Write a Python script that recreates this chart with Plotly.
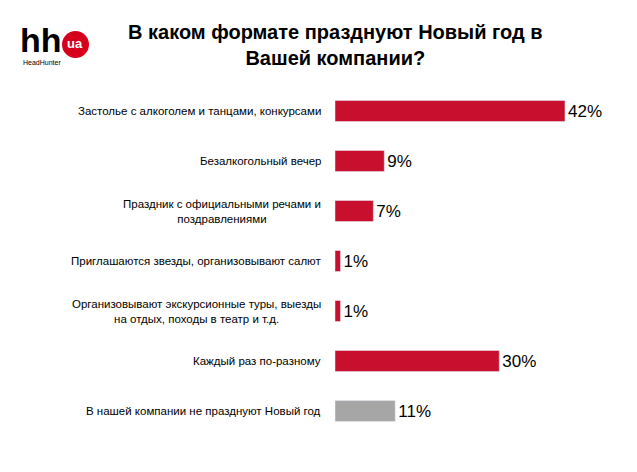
import plotly.graph_objects as go

categories = [
    "Застолье с алкоголем и танцами, конкурсами",
    "Безалкогольный вечер",
    "Праздник с официальными речами и<br>поздравлениями",
    "Приглашаются звезды, организовывают салют",
    "Организовывают экскурсионные туры, выезды<br>на отдых, походы в театр и т.д.",
    "Каждый раз по-разному",
    "В нашей компании не празднуют Новый год",
]
values = [42, 9, 7, 1, 1, 30, 11]
colors = ["#C8102E"] * 6 + ["#A6A6A6"]

L, T, W, H = 335, 86, 282, 350
def px(x): return (x - L) / W
def py(y): return 1 - (y - T) / H

fig = go.Figure(go.Bar(
    x=values, y=categories, orientation="h", marker_color=colors,
    text=[f"{v}%" for v in values], textposition="outside",
    textfont=dict(size=17, color="#000"), cliponaxis=False,
))
ann = []
for c in categories:
    ann.append(dict(x=0, xref="paper", y=c, yref="y", xshift=-12, xanchor="right",
                    yanchor="middle", text=c, showarrow=False, align="center",
                    font=dict(size=11.5, color="#000")))
def A(x, y, text, size, color="#000", xa="center"):
    ann.append(dict(x=px(x), y=py(y), xref="paper", yref="paper", xanchor=xa,
                    yanchor="middle", text=text, showarrow=False, align="center",
                    font=dict(size=size, color=color)))
A(335, 45, "<b>В каком формате празднуют Новый год в<br>Вашей компании?</b>", 20)
A(18, 40, "<b>hh</b>", 34, xa="left")
A(75, 44, "<b>ua</b>", 13, "#fff")
A(21, 62, "HeadHunter", 7, xa="left")
fig.update_layout(
    width=637, height=472,
    margin=dict(l=L, r=637 - L - W, t=T, b=472 - T - H, autoexpand=False),
    plot_bgcolor="white", paper_bgcolor="white", showlegend=False,
    bargap=0.58, font=dict(family="Liberation Sans, Arial"),
    xaxis=dict(range=[0, 51.5], visible=False),
    yaxis=dict(autorange="reversed", showticklabels=False, showline=False, showgrid=False),
    annotations=ann,
    shapes=[dict(type="circle", xref="paper", yref="paper", x0=px(62), x1=px(89),
                 y0=py(58), y1=py(31), fillcolor="#D6001C", line_width=0, layer="below")],
)
fig.write_html("out.html", config={"displayModeBar": False},
               post_script="document.body.style.margin='0';")
